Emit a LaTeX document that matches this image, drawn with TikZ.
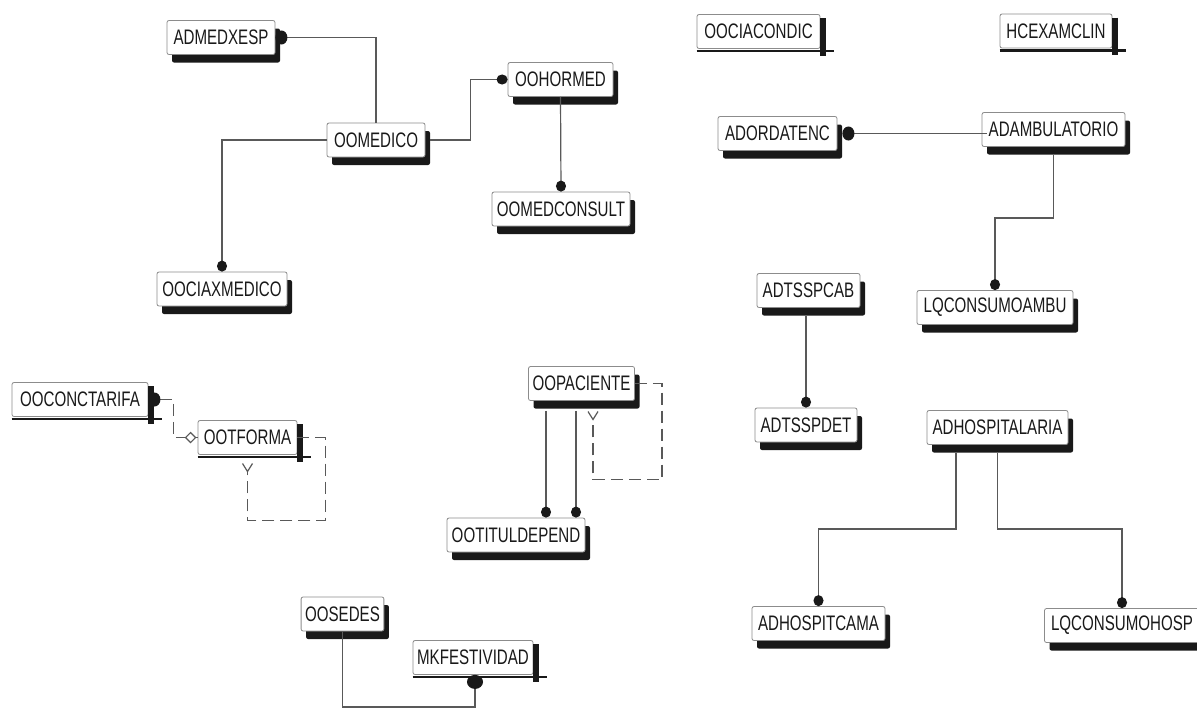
\documentclass[tikz,border=0pt]{standalone}
\usepackage{fontspec}
\usepackage{tikz}
\usetikzlibrary{arrows.meta,shadows}
\newfontfamily\entfont{Liberation Sans}[FakeStretch=0.72]

\begin{document}
\begin{tikzpicture}[x=0.5pt, y=-0.5pt,
  entbase/.style={draw=black!45, fill=white, rounded corners=1pt, inner sep=2pt,
    minimum height=17pt, font=\entfont\fontsize{10.5}{12}\selectfont, text=black!90},
  entity/.style={entbase, drop shadow={shadow xshift=2.5pt, shadow yshift=-4pt, fill=black!90, opacity=1}},
  flatbox/.style={entbase, append after command={
    ([xshift=1.5pt,yshift=-2pt]\tikzlastnode.north east) edge[line width=3pt, draw=black!90] ([xshift=1.5pt,yshift=-3.5pt]\tikzlastnode.south east)
    ([yshift=-1pt]\tikzlastnode.south west) edge[line width=1.2pt, draw=black!90] ([xshift=7pt,yshift=-1pt]\tikzlastnode.south east)}},
  rel/.style={draw=black!65, line width=0.6pt},
  many/.style={-{Circle[length=5.5pt,width=5pt,color=black!90]}},
  bump/.style={{Circle[length=6pt,width=7pt,color=black!90]}-},
  fork/.style={-{Straight Barb[reversed,length=4pt,width=5pt]}},
  opt/.style={dashed, dash pattern=on 6pt off 3pt}]

\useasboundingbox (0,0) rectangle (1197,707);
\clip (0,0) rectangle (1197,707);

% entities, left part
\node[entity, minimum width=54pt] (admedxesp) at (221,37.5) {ADMEDXESP};
\node[entity, minimum width=49pt] (oomedico) at (376,140) {OOMEDICO};
\node[entity, minimum width=52.5pt] (oohormed) at (560.5,79.5) {OOHORMED};
\node[entity, minimum width=69pt] (oomedconsult) at (561,209) {OOMEDCONSULT};
\node[entity, minimum width=65pt] (oociaxmedico) at (222,289) {OOCIAXMEDICO};
\node[flatbox, minimum width=68pt] (ooconctarifa) at (80,399.5) {OOCONCTARIFA};
\node[flatbox, minimum width=49.5pt] (ootforma) at (247.5,437.5) {OOTFORMA};
\node[entity, minimum width=51.5pt] (oopaciente) at (581.5,383.5) {OOPACIENTE};
\node[entity, minimum width=69pt] (ootituldepend) at (516,535) {OOTITULDEPEND};
\node[entity, minimum width=40.5pt] (oosedes) at (342.5,614) {OOSEDES};
\node[flatbox, minimum width=60pt] (mkfestividad) at (473,657.5) {MKFESTIVIDAD};

% entities, right part
\node[flatbox, minimum width=61.5pt] (oociacondic) at (758.5,31.5) {OOCIACONDIC};
\node[flatbox, minimum width=56pt] (hcexamclin) at (1056,31) {HCEXAMCLIN};
\node[entity, minimum width=59.5pt] (adordatenc) at (777.5,133.5) {ADORDATENC};
\node[entity, minimum width=71.5pt] (adambulatorio) at (1053.5,129.5) {ADAMBULATORIO};
\node[entity, minimum width=51.5pt] (adtsspcab) at (808.5,290.5) {ADTSSPCAB};
\node[entity, minimum width=78pt] (lqconsumoambu) at (995,307.5) {LQCONSUMOAMBU};
\node[entity, minimum width=51pt] (adtsspdet) at (806,425) {ADTSSPDET};
\node[entity, minimum width=70.5pt] (adhospitalaria) at (997.5,427.5) {ADHOSPITALARIA};
\node[entity, minimum width=66.5pt] (adhospitcama) at (818.5,623.5) {ADHOSPITCAMA};
\node[entity, minimum width=77.5pt] (lqconsumohosp) at (1122,625.5) {LQCONSUMOHOSP};

% relationships
\draw[rel, bump] (admedxesp.east) -| (oomedico.north);
\draw[rel, many] (oomedico.west) -| (oociaxmedico.north);
\draw[rel, many] ([xshift=2.5pt]oomedico.east) -- ++(40,0) |- (oohormed.west);
\draw[rel, many] (oohormed.south) -- (oomedconsult.north);
\draw[rel, opt, bump] (ooconctarifa.east) -- ++(25,0) |- (ootforma.west);
\draw[draw=black!65, line width=0.6pt, fill=white] ([xshift=-1pt]ootforma.west) -- ++(-5,-5) -- ++(-5,5) -- ++(5,5) -- cycle;
\draw[rel, opt, bump, fork] (ootforma.east) -- ++(28,0) -- ++(0,83) -| ([yshift=-4pt]ootforma.south);
\draw[rel, opt, bump, fork] (oopaciente.east) -- ++(27,0) -- ++(0,96) -| ([xshift=5.75pt,yshift=-5pt]oopaciente.south);
\draw[rel, many] ([xshift=-17.75pt,yshift=-5pt]oopaciente.south) -- ([xshift=-17.75pt]oopaciente.south |- ootituldepend.north);
\draw[rel, many] ([xshift=-2.75pt,yshift=-5pt]oopaciente.south) -- ([xshift=-2.75pt]oopaciente.south |- ootituldepend.north);
\draw[rel, {Circle[length=7pt,width=8pt,color=black!90]}-] ([xshift=1pt]mkfestividad.south) -- ++(0,32) -| (oosedes.south);
\draw[rel, bump] ([xshift=2.5pt]adordatenc.east) -- ([xshift=2.5pt]adordatenc.east -| adambulatorio.west);
\draw[rel, many] ([yshift=-4pt]adambulatorio.south) -- ++(0,63) -| (lqconsumoambu.north);
\draw[rel, many] ([yshift=-4pt]adtsspcab.south -| adtsspdet.north) -- (adtsspdet.north);
\draw[rel, many] ([xshift=-20.75pt,yshift=-4pt]adhospitalaria.south) -- ++(0,76) -| (adhospitcama.north);
\draw[rel, many] ([yshift=-4pt]adhospitalaria.south) -- ++(0,76) -| (lqconsumohosp.north);
\end{tikzpicture}
\end{document}
